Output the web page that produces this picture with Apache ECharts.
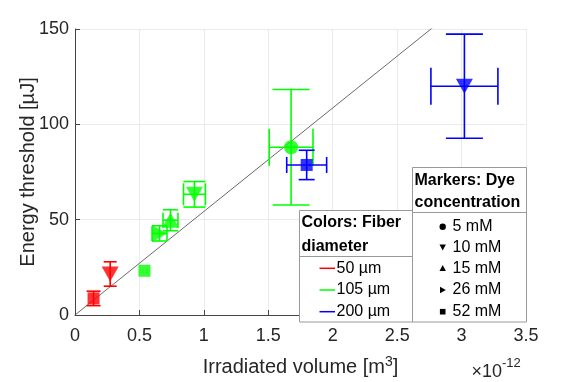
<!DOCTYPE html>
<html>
<head>
<meta charset="utf-8">
<script src="https://cdn.jsdelivr.net/npm/echarts@6/dist/echarts.min.js"></script>
<style>
html, body { margin: 0; padding: 0; background: #fff; }
#chart { width: 581px; height: 382px; }
</style>
</head>
<body>
<div id="chart"></div>
<script>
// values: volume in 1e-12 m^3, threshold in µJ
const volume    = [0.144, 0.273, 0.539, 0.656, 0.741, 0.927, 1.677, 1.798, 3.022];
const volumeErr = [0, 0, 0, 0.058, 0.058, 0.085, 0.17, 0.155, 0.26];
const energy    = [8.7, 21.5, 23.2, 42.8, 49.7, 63.3, 88, 78.7, 120];
const energyErr = [3.8, 6.4, 0, 4, 5.5, 6.7, 30.3, 7.7, 27.3];
const diameter  = ['50 µm', '50 µm', '105 µm', '105 µm', '105 µm', '105 µm', '105 µm', '200 µm', '200 µm'];
const dye       = ['52 mM', '10 mM', '52 mM', '26 mM', '15 mM', '10 mM', '5 mM', '52 mM', '10 mM'];

const diameters = ['50 µm', '105 µm', '200 µm'];
const dyes = ['5 mM', '10 mM', '15 mM', '26 mM', '52 mM'];
const fitSlope = 54.3; // µJ per 1e-12 m^3

const xMin = 0, xMax = 3.5, xStep = 0.5;
const yMin = 0, yMax = 150, yStep = 50;

// styling
const font = '"Liberation Sans", Arial, Helvetica, sans-serif';
const ink = '#262626';
const colorOf = { '50 µm': '#ff0000', '105 µm': '#00ff00', '200 µm': '#0000ff' };
const markerOf = {
    '5 mM':  { symbol: 'circle', size: 14, rotate: 0 },
    '10 mM': { symbol: 'triangle', size: [17, 15], rotate: 180 },
    '15 mM': { symbol: 'triangle', size: [17, 15], rotate: 0 },
    '26 mM': { symbol: 'triangle', size: [17, 15], rotate: -90 },
    '52 mM': { symbol: 'rect', size: 12, rotate: 0 },
};
const capWidth = [14, 13, 0, 15, 15, 22, 37, 16, 37];

const chart = echarts.init(document.getElementById('chart'), null, { renderer: 'canvas' });

const points = volume.map((v, i) => [v, energy[i], volumeErr[i], energyErr[i]]);

const errorBars = {
    type: 'custom',
    silent: true,
    data: points,
    encode: { x: 0, y: 1 },
    z: 3,
    renderItem(params, api) {
        const i = params.dataIndex;
        const x = api.value(0), y = api.value(1), ex = api.value(2), ey = api.value(3);
        const style = { stroke: colorOf[diameter[i]], lineWidth: 1.6 };
        const half = capWidth[i] / 2;
        const children = [];
        if (ey > 0) {
            const a = api.coord([x, y + ey]), b = api.coord([x, y - ey]);
            children.push({ type: 'line', shape: { x1: a[0], y1: a[1], x2: b[0], y2: b[1] }, style });
            children.push({ type: 'line', shape: { x1: a[0] - half, y1: a[1], x2: a[0] + half, y2: a[1] }, style });
            children.push({ type: 'line', shape: { x1: b[0] - half, y1: b[1], x2: b[0] + half, y2: b[1] }, style });
        }
        if (ex > 0) {
            const a = api.coord([x - ex, y]), b = api.coord([x + ex, y]);
            children.push({ type: 'line', shape: { x1: a[0], y1: a[1], x2: b[0], y2: b[1] }, style });
            children.push({ type: 'line', shape: { x1: a[0], y1: a[1] - half, x2: a[0], y2: a[1] + half }, style });
            children.push({ type: 'line', shape: { x1: b[0], y1: b[1] - half, x2: b[0], y2: b[1] + half }, style });
        }
        return { type: 'group', children };
    },
};

const markers = {
    type: 'scatter',
    silent: true,
    z: 4,
    data: points.map((p, i) => {
        const m = markerOf[dye[i]];
        return {
            value: [p[0], p[1]],
            symbol: m.symbol,
            symbolSize: m.size,
            symbolRotate: m.rotate,
            itemStyle: { color: colorOf[diameter[i]] },
        };
    }),
};

const fitLine = {
    type: 'line',
    silent: true,
    symbol: 'none',
    clip: true,
    z: 2,
    data: [[xMin, 0], [xMax, xMax * fitSlope]],
    lineStyle: { color: '#444', width: 0.8 },
};

// legends drawn as plain graphics (two boxed tables like the original)
const boxLine = '#999';
const txt = (text, x, y, opts = {}) => ({
    type: 'text', x, y, z: 100,
    style: Object.assign({ text, font: `16px ${font}`, fill: '#000', verticalAlign: 'middle', align: 'left' }, opts),
});

const colorBox = { left: 299.5, right: 412.5, top: 210.5, split: 256.5, bottom: 322 };
const markBox = { left: 412.5, right: 526.5, top: 167.5, split: 212.5, bottom: 322 };
const rowY = [226.7, 247.3, 268.3, 290, 311.7];

const graphics = [];
[colorBox, markBox].forEach(b => {
    graphics.push({
        type: 'rect', z: 99,
        shape: { x: b.left, y: b.top, width: b.right - b.left, height: b.bottom - b.top },
        style: { fill: '#fff', stroke: boxLine, lineWidth: 1 },
    });
    graphics.push({
        type: 'line', z: 99,
        shape: { x1: b.left, y1: b.split, x2: b.right, y2: b.split },
        style: { stroke: boxLine, lineWidth: 1 },
    });
});
graphics.push(txt('Colors: Fiber', 301.5, 223, { font: `bold 16px ${font}` }));
graphics.push(txt('diameter', 301.5, 246.5, { font: `bold 16px ${font}` }));
graphics.push(txt('Markers: Dye', 414.5, 180.5, { font: `bold 16px ${font}` }));
graphics.push(txt('concentration', 414.5, 203, { font: `bold 16px ${font}` }));

diameters.forEach((d, k) => {
    const y = rowY[k + 2];
    graphics.push({
        type: 'line', z: 100,
        shape: { x1: 319.5, y1: y, x2: 335, y2: y },
        style: { stroke: colorOf[d], lineWidth: 1.5 },
    });
    graphics.push(txt(d, 336.5, y));
});

dyes.forEach((d, k) => {
    const y = rowY[k], cx = 442.7, r = 3.2;
    let icon;
    if (d === '5 mM') icon = { type: 'circle', shape: { cx, cy: y, r } };
    else if (d === '10 mM') icon = { type: 'polygon', shape: { points: [[cx - r, y - r + 0.5], [cx + r, y - r + 0.5], [cx, y + r]] } };
    else if (d === '15 mM') icon = { type: 'polygon', shape: { points: [[cx - r, y + r - 0.5], [cx + r, y + r - 0.5], [cx, y - r]] } };
    else if (d === '26 mM') icon = { type: 'polygon', shape: { points: [[cx - r + 0.5, y - r], [cx - r + 0.5, y + r], [cx + r, y]] } };
    else icon = { type: 'rect', shape: { x: cx - 2.8, y: y - 2.8, width: 5.6, height: 5.6 } };
    icon.z = 100;
    icon.style = { fill: '#000' };
    graphics.push(icon);
    graphics.push(txt(d, 452.5, y));
});

// x10^-12 exponent note
graphics.push({ type: 'text', z: 100, x: 502, y: 372, style: { text: '×10', font: `18px ${font}`, fill: ink, align: 'right', verticalAlign: 'middle' } });
graphics.push({ type: 'text', z: 100, x: 502, y: 363, style: { text: '-12', font: `13px ${font}`, fill: ink, align: 'left', verticalAlign: 'middle' } });

const axisCommon = {
    type: 'value',
    axisLine: { show: true, lineStyle: { color: '#444', width: 1 } },
    axisTick: { show: true, inside: true, length: 5, lineStyle: { color: '#444' } },
    splitLine: { show: true, lineStyle: { color: '#ebebeb', width: 1 } },
    axisLabel: { color: ink, fontSize: 18, fontFamily: font },
    nameLocation: 'middle',
    nameMoveOverlap: false,
    nameTextStyle: { color: ink, fontSize: 20, fontFamily: font },
};

chart.setOption({
    animation: false,
    backgroundColor: '#fff',
    grid: { left: 75, right: 55, top: 29, bottom: 60, containLabel: false },
    xAxis: Object.assign({}, axisCommon, {
        min: xMin, max: xMax, interval: xStep,
        axisLabel: Object.assign({}, axisCommon.axisLabel, { margin: 12 }),
        name: 'Irradiated volume [m{sup|3}]',
        nameGap: 40,
        nameTextStyle: Object.assign({}, axisCommon.nameTextStyle, {
            rich: { sup: { fontSize: 14, fontFamily: font, color: ink, verticalAlign: 'top', padding: [0, 0, 10, 0] } },
        }),
    }),
    yAxis: Object.assign({}, axisCommon, {
        min: yMin, max: yMax, interval: yStep,
        axisLabel: Object.assign({}, axisCommon.axisLabel, { margin: 6 }),
        name: 'Energy threshold [µJ]',
        nameGap: 37,
    }),
    series: [fitLine, errorBars, markers],
    graphic: graphics,
});
</script>
</body>
</html>
